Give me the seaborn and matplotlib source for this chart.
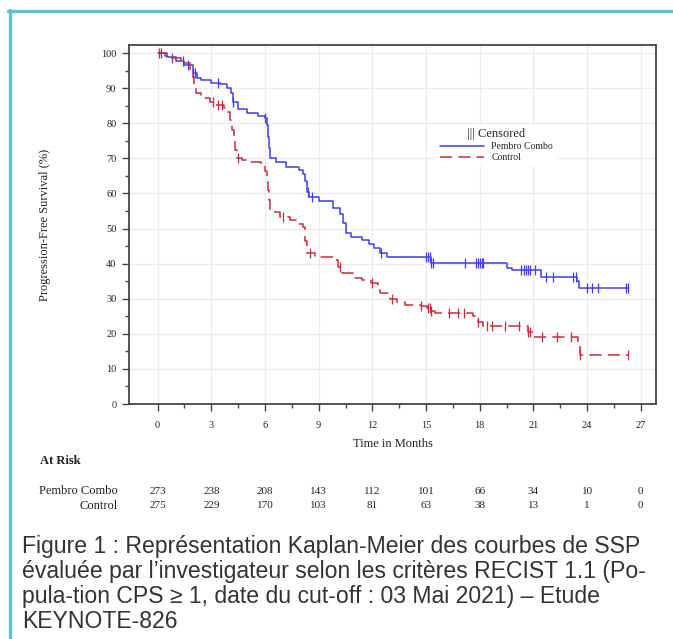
import numpy as np
import pandas as pd
import matplotlib
matplotlib.use('Agg')
import matplotlib.pyplot as plt
import matplotlib.transforms as mtransforms
from matplotlib.lines import Line2D
import seaborn as sns

# Courbes de Kaplan-Meier (mois, % SSP)
pembro_t = [0, 0.5, 1.0, 1.5, 2.0, 2.2, 2.4, 3.0, 3.5, 3.9, 4.1, 4.2, 4.5, 5.0, 5.6, 6.0,
            6.1, 6.15, 6.2, 6.3, 6.6, 7.2, 7.9, 8.1, 8.25, 8.35, 8.45, 9.0, 9.8, 10.2,
            10.35, 10.5, 10.8, 11.4, 11.8, 12.1, 12.4, 12.8, 15.3, 19.5, 19.8, 21.4,
            23.45, 23.55, 26.3]
pembro_s = [100, 99.0, 97.8, 96.6, 94.3, 93.0, 92.2, 91.6, 91.2, 90.0, 88.5, 86.0, 84.0,
            82.9, 82.2, 81.5, 79.5, 76.0, 73.0, 70.2, 68.9, 67.6, 66.8, 65.5, 63.5, 60.5,
            59.0, 57.8, 55.8, 54.2, 51.5, 48.7, 47.6, 46.7, 45.6, 44.4, 43.0, 41.9, 40.2,
            38.8, 38.2, 36.3, 35.0, 33.0, 33.0]

control_t = [0, 0.4, 0.8, 1.3, 1.8, 1.95, 2.05, 2.15, 2.4, 2.9, 3.2, 3.7, 3.9, 4.05, 4.15,
             4.25, 4.33, 4.44, 4.7, 5.0, 5.8, 6.0, 6.1, 6.15, 6.2, 6.28, 6.84, 7.4, 7.8,
             8.13, 8.25, 8.35, 8.8, 9.8, 10.1, 10.3, 10.9, 11.4, 11.9, 12.3, 12.45, 13.0,
             13.4, 13.8, 14.7, 15.05, 15.3, 15.5, 17.6, 17.9, 18.2, 20.7, 21.0, 23.5,
             23.6, 26.3]
control_s = [100, 99.3, 98.5, 97.3, 95.6, 93.2, 90.5, 88.7, 87.2, 86.0, 85.2, 84.3, 83.2,
             81.0, 78.0, 75.0, 72.4, 70.1, 69.4, 68.9, 68.1, 66.5, 64.5, 61.0, 58.0, 54.7,
             53.3, 52.4, 51.3, 50.4, 46.5, 43.0, 41.9, 41.0, 39.0, 37.3, 35.9, 35.2, 34.6,
             32.5, 31.6, 30.0, 29.0, 28.2, 27.9, 27.3, 26.6, 25.9, 25.1, 23.5, 22.2, 20.6,
             19.1, 16.8, 14.0, 14.0]

# Temps de censure
pembro_cens = [0.2, 1.4, 1.7, 2.0, 2.1, 3.4, 4.2, 6.0, 8.4, 8.6, 12.5, 15.0, 15.1, 15.2,
               15.3, 15.4, 17.2, 17.8, 17.9, 18.0, 18.1, 18.2, 20.3, 20.5, 20.6, 20.7,
               20.8, 21.1, 21.7, 22.1, 23.2, 23.4, 24.0, 24.3, 24.6, 26.2, 26.3]
control_cens = [0.05, 0.8, 3.1, 3.4, 3.6, 4.5, 7.0, 8.5, 10.2, 12.0, 13.1, 14.7, 15.1,
                15.2, 15.3, 16.3, 16.8, 17.1, 17.9, 18.4, 18.7, 19.4, 20.2, 20.7, 20.8,
                21.5, 22.3, 23.1, 23.6, 26.3]

# Nombre de sujets à risque
risk_months = [0, 3, 6, 9, 12, 15, 18, 21, 24, 27]
risk_pembro = [273, 238, 208, 143, 112, 101, 66, 34, 10, 0]
risk_control = [275, 229, 170, 103, 81, 63, 38, 13, 1, 0]

blue = '#3f3fe4'
red = '#c0303f'


def step_value(times, surv, t):
    idx = np.searchsorted(times, t, side='right') - 1
    return np.asarray(surv)[idx]


sns.set_style('ticks')
plt.rcParams['font.family'] = ['Liberation Serif', 'DejaVu Serif']

fig = plt.figure(figsize=(6.73, 6.39), dpi=100)
ax = fig.add_axes([129 / 673, 1 - 404 / 639, 527 / 673, 359 / 639])

pembro = pd.DataFrame({'t': pembro_t, 's': pembro_s})
control = pd.DataFrame({'t': control_t, 's': control_s})

sns.lineplot(data=pembro, x='t', y='s', ax=ax, color=blue, lw=1.1, drawstyle='steps-post',
             estimator=None, label='Pembro Combo')
sns.lineplot(data=control, x='t', y='s', ax=ax, color=red, lw=1.1, drawstyle='steps-post',
             estimator=None, linestyle=(0, (8, 4)), label='Control')

pc = pd.DataFrame({'t': pembro_cens, 's': step_value(pembro_t, pembro_s, pembro_cens)})
cc = pd.DataFrame({'t': control_cens, 's': step_value(control_t, control_s, control_cens)})
sns.scatterplot(data=pc, x='t', y='s', ax=ax, marker='|', s=50, color=blue, linewidth=0.9,
                legend=False)
sns.scatterplot(data=cc, x='t', y='s', ax=ax, marker='|', s=50, color=red, linewidth=0.9,
                legend=False)

ax.set_xlim(-1.6, 27.85)
ax.set_ylim(0, 102.3)
ax.set_xticks(risk_months)
ax.set_xticks(np.arange(1.5, 27, 3), minor=True)
ax.set_yticks(np.arange(0, 101, 10))
ax.set_yticks(np.arange(5, 100, 10), minor=True)
ax.grid(True, which='major', color='#ececec', lw=1.0)
ax.set_axisbelow(True)
for sp in ax.spines.values():
    sp.set_color('#444444')
    sp.set_linewidth(1.3)
ax.tick_params(axis='both', which='major', length=5, width=1.0, color='#444444',
               labelsize=7.5, labelcolor='#222222', pad=4)
ax.tick_params(axis='x', which='major', pad=7)
ax.tick_params(axis='both', which='minor', length=3, width=1.0, color='#444444')
ax.set_xlabel('Time in Months', fontsize=9, color='#222222', labelpad=6)
ax.set_ylabel('')
fig.text(45 / 673, 1 - 225 / 639, 'Progression-Free Survival (%)', rotation=90,
         ha='center', va='center', fontsize=9, color='#222222')

leg = ax.legend(title='||| Censored', loc='upper left', bbox_to_anchor=(0.575, 0.79),
                fontsize=7, title_fontsize=9, frameon=True, handlelength=4.5,
                borderpad=0.3, labelspacing=0.2, handletextpad=0.8)
leg.get_frame().set_facecolor('white')
leg.get_frame().set_edgecolor('white')
leg.get_frame().set_alpha(1)

# Tableau des sujets à risque
trans = mtransforms.blended_transform_factory(ax.transData, fig.transFigure)
fig.text(40 / 673, 1 - 461 / 639, 'At Risk', fontsize=9, fontweight='bold',
         ha='left', va='center', color='#222222')
fig.text(118 / 673, 1 - 491 / 639, 'Pembro Combo', fontsize=9, ha='right', va='center',
         color='#222222')
fig.text(118 / 673, 1 - 506 / 639, 'Control', fontsize=9, ha='right', va='center',
         color='#222222')
for m, a, b in zip(risk_months, risk_pembro, risk_control):
    ax.text(m, 1 - 491 / 639, str(a), transform=trans, fontsize=8, ha='center',
            va='center', color='#222222')
    ax.text(m, 1 - 506 / 639, str(b), transform=trans, fontsize=8, ha='center',
            va='center', color='#222222')

# Légende de la figure
caption = ('Figure 1 : Représentation Kaplan-Meier des courbes de SSP\n'
           'évaluée par l\u2019investigateur selon les critères RECIST 1.1 (Po-\n'
           'pula-tion CPS \u2265 1, date du cut-off : 03 Mai 2021) \u2013 Etude\n'
           'KEYNOTE-826')
fig.text(22 / 673, 1 - 535 / 639, caption, fontsize=16.6, family=['Liberation Sans', 'DejaVu Sans'],
         ha='left', va='top', color='#333333', linespacing=1.12)

# Cadre turquoise
teal = '#5fc2cd'
fig.add_artist(Line2D([9.5 / 673, 9.5 / 673], [0, 1 - 10 / 639], transform=fig.transFigure,
                      color=teal, lw=2.4))
fig.add_artist(Line2D([8.3 / 673, 1], [1 - 10.5 / 639, 1 - 10.5 / 639],
                      transform=fig.transFigure, color=teal, lw=2.4))

fig.savefig('out.png', dpi=100)
